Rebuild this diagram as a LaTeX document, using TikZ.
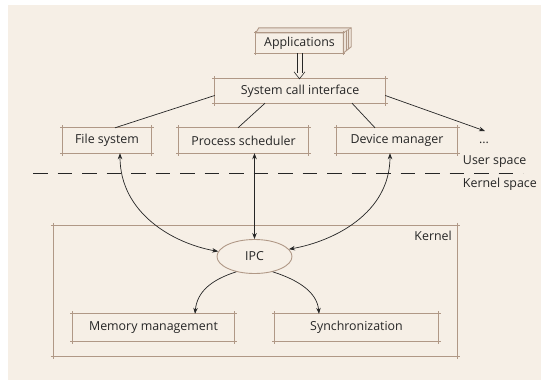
\documentclass[tikz,border=0pt]{standalone}
\usepackage{fontspec}
\setmainfont{Open Sans}
\usetikzlibrary{arrows.meta,shapes.geometric,calc}

\definecolor{paper}{HTML}{F6EFE6}
\definecolor{boxbrown}{HTML}{B09886}
\definecolor{ink}{HTML}{262626}

\tikzset{
  lbl/.style={font=\fontsize{12.4}{14}\selectfont, text=ink, inner sep=0pt},
  box/.style={lbl, minimum height=25pt},
  edge/.style={boxbrown, line width=1.3pt},
  conn/.style={ink, line width=0.7pt},
  tipend/.style={-{Stealth[length=6pt,width=4.5pt]}},
  tipboth/.style={{Stealth[length=6pt,width=4.5pt]}-{Stealth[length=6pt,width=4.5pt]}},
}

% box outline whose edges run slightly past the corners
\newcommand\sketchbox[2][2.5pt]{%
  \draw[edge] ([xshift=-#1]#2.north west) -- ([xshift=#1]#2.north east);
  \draw[edge] ([xshift=-#1]#2.south west) -- ([xshift=#1]#2.south east);
  \draw[edge] ([yshift=#1]#2.north west) -- ([yshift=-#1]#2.south west);
  \draw[edge] ([yshift=#1]#2.north east) -- ([yshift=-#1]#2.south east);
}

\begin{document}
\begin{tikzpicture}[x=1pt,y=-1pt]
\fill[white] (0,0) rectangle (541,380);
\fill[paper] (8,5) rectangle (541,380);
\useasboundingbox (0,0) rectangle (541,380);

% ---- user space ----
\node[box, minimum width=87pt, minimum height=20pt] (app) at (299.5,43) {Applications};
% stacked slab behind the Applications box
\draw[edge, line width=0.9pt, fill=paper!85!boxbrown]
  (app.north west) -- ++(3,-5) -- ($(app.north east)+(8,-5)$) -- ++(0,19)
  -- (app.south east) -- (app.north east) -- cycle;
\draw[edge, line width=0.6pt] (app.north east) -- ++(8,-5);
\draw[edge, line width=0.5pt] ($(app.north east)+(2.7,-1.7)$) -- ++(0,19.5);
\draw[edge, line width=0.5pt] ($(app.north east)+(5.3,-3.3)$) -- ++(0,19.5);
\sketchbox[1.5pt]{app}

\node[box, minimum width=170pt, minimum height=24pt] (sci) at (300,91) {System call interface};
\sketchbox{sci}

\node[box, minimum width=88pt] (fs) at (107,140.5) {File system};
\sketchbox{fs}
\node[box, minimum width=129pt] (ps) at (243.5,140.5) {Process scheduler};
\sketchbox{ps}
\node[box, minimum width=120pt] (dm) at (397,140.5) {Device manager};
\sketchbox{dm}
\node[lbl] (dots) at (484,143) {...};
\coordinate (etc) at (485,131);

\node[lbl, anchor=east] (ks) at (537,184) {Kernel space};
\node[lbl, anchor=west] (us) at (ks.west |- 0,162) {User space};

% user / kernel boundary
\coordinate (dl) at (33,173);
\coordinate (dr) at (523,173);
\draw[ink, line width=0.8pt, dash pattern=on 14.5pt off 10pt] (dl) -- (dr);

% ---- kernel ----
\node[inner sep=0pt, minimum width=403pt, minimum height=130pt] (kern) at (255.5,291) {};
\sketchbox[3pt]{kern}
\node[lbl, anchor=east] (kl) at (452,236) {Kernel};

\node[lbl, ellipse, draw=boxbrown, line width=0.9pt,
      minimum width=75pt, minimum height=34pt] (ipc) at (254.5,256.5) {IPC};

\node[box, minimum width=161pt, minimum height=27pt] (mm) at (153.5,327.5) {Memory management};
\sketchbox{mm}
\node[box, minimum width=163pt, minimum height=27pt] (sync) at (356.5,327.5) {Synchronization};
\sketchbox{sync}

% ---- connectors ----
% hollow double arrow from Applications down to the system call interface
\draw[ink, line width=0.6pt] ([xshift=-2.7pt]app.south) -- ([xshift=-2.7pt,yshift=6pt]app.south |- sci.north);
\draw[ink, line width=0.6pt] ([xshift=2.7pt]app.south) -- ([xshift=2.7pt,yshift=6pt]app.south |- sci.north);
\draw[ink, line width=0.6pt, line join=miter]
  ([xshift=-5.5pt,yshift=7pt]app.south |- sci.north) -- (app.south |- sci.north)
  -- ([xshift=5.5pt,yshift=7pt]app.south |- sci.north);

\draw[conn] (sci.183) -- ([xshift=8pt]fs.north);
\draw[conn] ([xshift=-35pt]sci.south) -- ([xshift=-5.5pt]ps.north);
\draw[conn] ([xshift=52pt]sci.south) -- ([xshift=-22pt]dm.north);
\draw[conn, tipend] (sci.357) -- (etc);

\draw[conn, tipboth] ([xshift=13pt]fs.south)
  .. controls ($([xshift=13pt]fs.south)+(0,60)$) and ($(ipc.172)+(-45,-8)$) .. (ipc.172);
\draw[conn, tipboth] (ipc.north |- ps.south) -- (ipc.north);
\draw[conn, tipboth] ([xshift=-7pt]dm.south)
  .. controls ($([xshift=-7pt]dm.south)+(0,60)$) and ($(ipc.12)+(45,-8)$) .. (ipc.12);

\draw[conn, tipend] (ipc.220)
  .. controls ($(ipc.220)+(-25,8)$) and ($([xshift=41.5pt]mm.north)+(2,-22)$) .. ([xshift=41.5pt]mm.north);
\draw[conn, tipend] (ipc.320)
  .. controls ($(ipc.320)+(25,8)$) and ($([xshift=-37.5pt]sync.north)+(-2,-22)$) .. ([xshift=-37.5pt]sync.north);
\end{tikzpicture}
\end{document}
